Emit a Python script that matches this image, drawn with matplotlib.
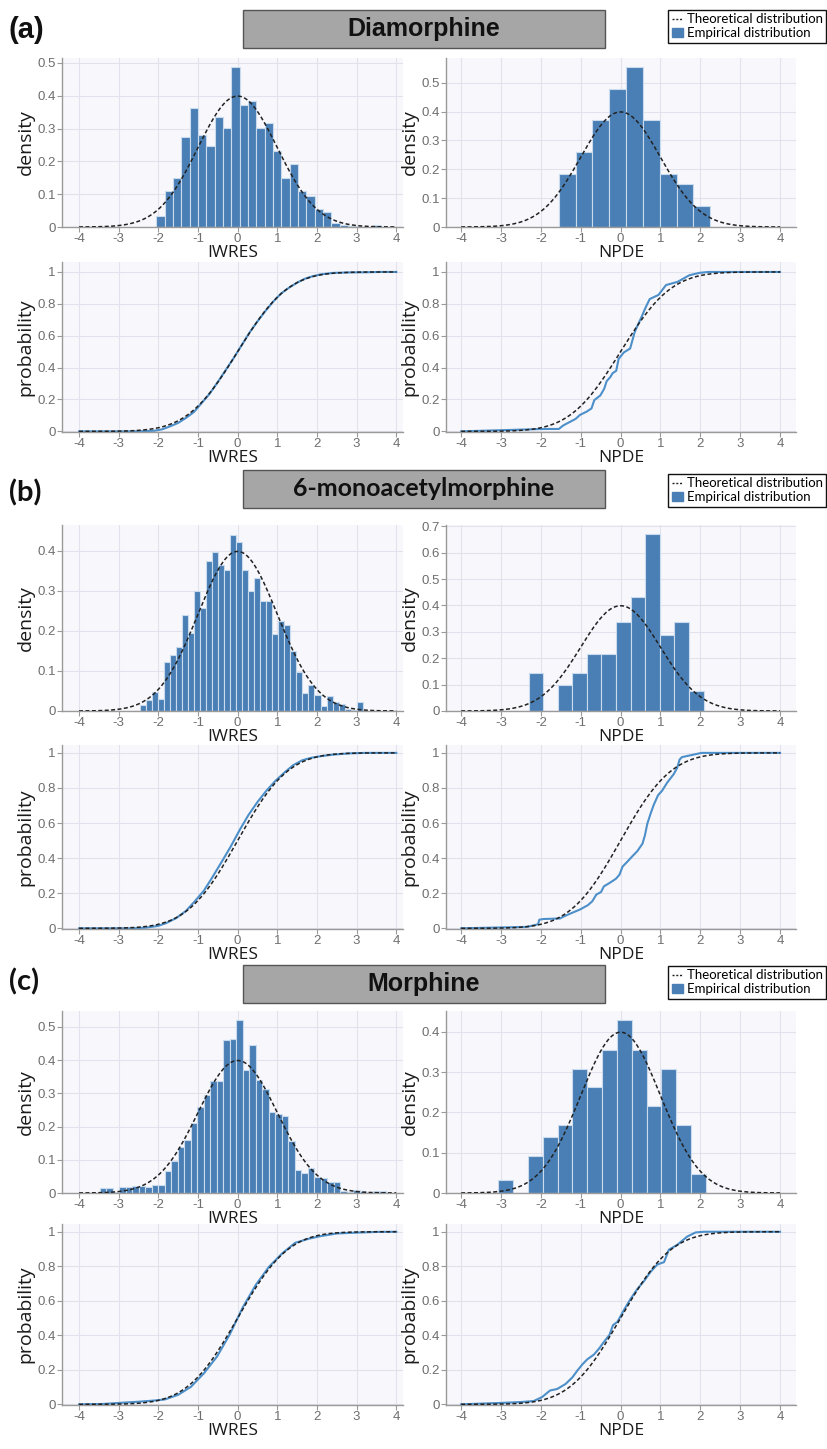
import matplotlib
matplotlib.use("Agg")
import matplotlib.pyplot as plt
from matplotlib.lines import Line2D
from matplotlib.patches import Patch, Rectangle
from matplotlib.ticker import FuncFormatter
from math import erf, sqrt, pi, exp

# ---------------- data ----------------
panel_letters = ["(a)", "(b)", "(c)"]
compounds = ["Diamorphine", "6-monoacetylmorphine", "Morphine"]
legend_labels = ["Theoretical distribution", "Empirical distribution"]
x_ticks = [-4, -3, -2, -1, 0, 1, 2, 3, 4]
x_labels = ["IWRES", "NPDE"]

# theoretical distribution: standard normal N(0, 1)
theo_mean = 0.0
theo_sd = 1.0

# (a) Diamorphine
iwres_a_start = -2.05
iwres_a_width = 0.21
iwres_a_density = [0.033, 0.109, 0.150, 0.275, 0.364, 0.281, 0.246, 0.336, 0.301,
                   0.488, 0.371, 0.385, 0.301, 0.316, 0.232, 0.150, 0.192, 0.109,
                   0.095, 0.055, 0.046, 0.013, 0.006, 0.003, 0.0, 0.0, 0.007]
npde_a_start = -1.55
npde_a_width = 0.422
npde_a_density = [0.185, 0.259, 0.370, 0.480, 0.555, 0.370, 0.185, 0.148, 0.074]

iwres_a_cdf_x = [-4, -2.5, -2.1, -1.9, -1.7, -1.5, -1.3, -1.1, -0.9, -0.7, -0.5, -0.3,
                 -0.1, 0.1, 0.3, 0.5, 0.7, 0.9, 1.1, 1.3, 1.5, 1.7, 1.9, 2.1, 2.4,
                 2.8, 3.2, 3.6, 4]
iwres_a_cdf_p = [0, 0.0, 0.004, 0.013, 0.032, 0.053, 0.085, 0.122, 0.18, 0.238,
                 0.31, 0.385, 0.46, 0.54, 0.62, 0.69, 0.755, 0.815, 0.866, 0.902,
                 0.933, 0.958, 0.974, 0.985, 0.994, 0.997, 0.998, 1.0, 1.0]
npde_a_cdf_x = [-4, -1.95, -1.55, -1.44, -1.13, -1.02, -0.85, -0.73, -0.66, -0.51,
                -0.41, -0.35, -0.26, -0.2, -0.11, -0.05, 0.08, 0.24, 0.35, 0.40,
                0.54, 0.62, 0.73, 0.95, 1.14, 1.43, 1.72, 1.97, 2.2, 4]
npde_a_cdf_p = [0, 0.015, 0.015, 0.037, 0.078, 0.103, 0.124, 0.144, 0.196, 0.225,
                0.268, 0.315, 0.34, 0.365, 0.38, 0.454, 0.495, 0.52, 0.62, 0.65,
                0.726, 0.773, 0.83, 0.856, 0.918, 0.938, 0.979, 0.994, 1.0, 1.0]

# (b) 6-monoacetylmorphine
iwres_b_start = -2.47
iwres_b_width = 0.152
iwres_b_density = [0.015, 0.027, 0.047, 0.031, 0.122, 0.140, 0.161, 0.241, 0.196,
                   0.300, 0.257, 0.374, 0.397, 0.366, 0.353, 0.439, 0.423, 0.353,
                   0.300, 0.332, 0.274, 0.274, 0.193, 0.225, 0.215, 0.150, 0.098,
                   0.044, 0.066, 0.040, 0.012, 0.038, 0.022, 0.018, 0.006, 0.002,
                   0.022]
npde_b_start = -2.31
npde_b_width = 0.366
npde_b_density = [0.145, 0.0, 0.098, 0.145, 0.216, 0.216, 0.336, 0.433, 0.672,
                  0.289, 0.336, 0.074]

iwres_b_cdf_x = [-4, -2.6, -2.3, -2.0, -1.8, -1.55, -1.3, -1.1, -0.85, -0.64, -0.4,
                 -0.19, 0.05, 0.27, 0.5, 0.72, 0.95, 1.18, 1.4, 1.63, 1.85, 2.09,
                 2.4, 2.8, 3.2, 4]
iwres_b_cdf_p = [0, 0.0, 0.004, 0.014, 0.03, 0.058, 0.1, 0.149, 0.215, 0.29,
                 0.38, 0.46, 0.56, 0.645, 0.72, 0.783, 0.84, 0.888, 0.93, 0.958,
                 0.972, 0.981, 0.99, 0.997, 1.0, 1.0]
npde_b_cdf_x = [-4, -2.35, -2.07, -2.04, -1.93, -1.52, -1.42, -1.27, -1.02, -0.82,
                -0.71, -0.61, -0.49, -0.42, -0.28, -0.12, -0.03, 0.05, 0.17, 0.30,
                0.42, 0.55, 0.61, 0.67, 0.75, 0.83, 0.94, 1.04, 1.17, 1.33, 1.42,
                1.48, 1.54, 2.03, 4]
npde_b_cdf_p = [0, 0.008, 0.023, 0.049, 0.053, 0.056, 0.068, 0.083, 0.107, 0.132,
                0.154, 0.192, 0.207, 0.239, 0.258, 0.282, 0.305, 0.352, 0.38, 0.412,
                0.44, 0.483, 0.53, 0.596, 0.652, 0.703, 0.759, 0.784, 0.831, 0.878,
                0.915, 0.962, 0.976, 1.0, 1.0]

# (c) Morphine
iwres_c_start = -3.48
iwres_c_width = 0.164
iwres_c_density = [0.014, 0.014, 0.004, 0.017, 0.017, 0.020, 0.020, 0.017, 0.025,
                   0.025, 0.066, 0.097, 0.138, 0.160, 0.212, 0.259, 0.296, 0.336,
                   0.336, 0.462, 0.465, 0.522, 0.371, 0.446, 0.339, 0.314, 0.245,
                   0.238, 0.232, 0.158, 0.070, 0.060, 0.074, 0.048, 0.045, 0.034,
                   0.034, 0.005, 0.004, 0.010, 0.005, 0.003, 0.006, 0.006]
npde_c_start = -3.07
npde_c_width = 0.372
npde_c_density = [0.032, 0.0, 0.093, 0.140, 0.169, 0.308, 0.262, 0.354, 0.430,
                  0.354, 0.215, 0.308, 0.169, 0.047]

iwres_c_cdf_x = [-4, -3.4, -3.0, -2.5, -2.1, -1.84, -1.5, -1.18, -0.85, -0.52, -0.2,
                 0.13, 0.46, 0.79, 1.12, 1.45, 1.8, 2.1, 2.5, 3.0, 3.5, 4]
iwres_c_cdf_p = [0, 0.002, 0.008, 0.015, 0.022, 0.028, 0.055, 0.101, 0.18, 0.277,
                 0.405, 0.562, 0.693, 0.797, 0.874, 0.936, 0.96, 0.975, 0.99,
                 0.995, 0.999, 1.0]
npde_c_cdf_x = [-4, -3.01, -2.51, -2.18, -1.97, -1.77, -1.59, -1.38, -1.21, -1.09,
                -0.96, -0.84, -0.67, -0.53, -0.44, -0.28, -0.19, -0.08, 0.08, 0.25,
                0.42, 0.59, 0.75, 0.92, 1.09, 1.21, 1.42, 1.67, 1.88, 2.09, 4]
npde_c_cdf_p = [0, 0.008, 0.013, 0.019, 0.042, 0.08, 0.089, 0.118, 0.156, 0.194,
                0.231, 0.26, 0.288, 0.326, 0.355, 0.402, 0.459, 0.478, 0.545, 0.611,
                0.668, 0.715, 0.767, 0.81, 0.824, 0.896, 0.924, 0.972, 0.996, 1.0, 1.0]

# ---------------- style ----------------
W, H = 828, 1449
plt.rcParams["axes.unicode_minus"] = False
TICK_FONT = ["Liberation Sans", "DejaVu Sans"]
LABEL_FONT = ["Open Sans", "DejaVu Sans"]
BAR_COLOR = "#4a7fb5"
BAR_EDGE = "#c9dbec"
ECDF_COLOR = "#4d8fc9"
BG = "#f8f8fc"
GRID = "#e2e2ec"
AXCOL = "#9a9a9a"

theo_x = [-4 + 0.04 * i for i in range(201)]
theo_pdf = [exp(-((v - theo_mean) / theo_sd) ** 2 / 2) / (theo_sd * sqrt(2 * pi)) for v in theo_x]
theo_cdf = [0.5 * (1 + erf((v - theo_mean) / (theo_sd * sqrt(2)))) for v in theo_x]

fig = plt.figure(figsize=(W / 100, H / 100), dpi=100)


def add_ax(x0, x1, y0, y1):
    return fig.add_axes([x0 / W, 1 - y1 / H, (x1 - x0) / W, (y1 - y0) / H])


fmt = FuncFormatter(lambda v, p: ("%g" % round(v, 3)))


def style(ax, xlim, ylim, yticks, ylabel, xlabel):
    ax.set_facecolor(BG)
    ax.set_xlim(*xlim)
    ax.set_ylim(*ylim)
    ax.set_xticks(x_ticks)
    ax.set_yticks(yticks)
    ax.yaxis.set_major_formatter(fmt)
    ax.xaxis.set_major_formatter(fmt)
    ax.grid(True, color=GRID, lw=0.8)
    ax.set_axisbelow(True)
    for s in ["top", "right"]:
        ax.spines[s].set_visible(False)
    for s in ["left", "bottom"]:
        ax.spines[s].set_color(AXCOL)
        ax.spines[s].set_linewidth(1.0)
    ax.tick_params(axis="both", direction="out", length=3.5, width=0.8, color=AXCOL,
                   labelcolor="#6e6e6e", labelsize=9.5, pad=1.0)
    for lab in ax.get_xticklabels() + ax.get_yticklabels():
        lab.set_family(TICK_FONT)
    ax.set_ylabel(ylabel, family=LABEL_FONT, fontsize=14, color="#1a1a1a", labelpad=2)
    ax.set_xlabel(xlabel, family=LABEL_FONT, fontsize=12.5, color="#1a1a1a", labelpad=0)


def hist(ax, start, width, dens):
    lefts = [start + i * width for i in range(len(dens))]
    ax.bar(lefts, dens, width=width, align="edge", color=BAR_COLOR,
           edgecolor=BAR_EDGE, linewidth=0.8, zorder=2)
    ax.plot(theo_x, theo_pdf, color="#222222", lw=1.1, ls=(0, (2.6, 1.6)), zorder=3)


def cdf(ax, xs, ps):
    ax.plot(xs, ps, color=ECDF_COLOR, lw=1.5, zorder=2)
    ax.plot(theo_x, theo_cdf, color="#222222", lw=1.1, ls=(0, (2.6, 1.6)), zorder=3)


LX = (62, 403)
RX = (446, 796)
XL_L = (-4.43, 4.17)
XL_R = (-4.38, 4.4)

layout = [
    dict(dens=(58, 227), cdf=(262, 432), ylim_l=0.515, ylim_r=0.586, yt_l=0.5, yt_r=0.5,
         ycdf=1.0625, head=(10, 48), letter_y=30, leg_top=10),
    dict(dens=(525, 711), cdf=(745, 929), ylim_l=0.465, ylim_r=0.705, yt_l=0.4, yt_r=0.7,
         ycdf=1.045, head=(470, 508), letter_y=493, leg_top=474),
    dict(dens=(1011, 1193), cdf=(1224, 1405), ylim_l=0.548, ylim_r=0.4515, yt_l=0.5, yt_r=0.4,
         ycdf=1.045, head=(965, 1003), letter_y=982, leg_top=966),
]

hist_data = [
    ((iwres_a_start, iwres_a_width, iwres_a_density), (npde_a_start, npde_a_width, npde_a_density)),
    ((iwres_b_start, iwres_b_width, iwres_b_density), (npde_b_start, npde_b_width, npde_b_density)),
    ((iwres_c_start, iwres_c_width, iwres_c_density), (npde_c_start, npde_c_width, npde_c_density)),
]
cdf_data = [
    ((iwres_a_cdf_x, iwres_a_cdf_p), (npde_a_cdf_x, npde_a_cdf_p)),
    ((iwres_b_cdf_x, iwres_b_cdf_p), (npde_b_cdf_x, npde_b_cdf_p)),
    ((iwres_c_cdf_x, iwres_c_cdf_p), (npde_c_cdf_x, npde_c_cdf_p)),
]


def ticks_to(top):
    n = int(round(top * 10))
    return [i / 10 for i in range(n + 1)]


cdf_ticks = [0, 0.2, 0.4, 0.6, 0.8, 1.0]
title_fonts = [["Liberation Sans Narrow", "Liberation Sans"], ["Lato", "DejaVu Sans"],
               ["Liberation Sans Narrow", "Liberation Sans"]]
letter_fonts = [["Liberation Sans", "DejaVu Sans"], ["Lato", "DejaVu Sans"], ["Lato", "DejaVu Sans"]]

for k, L in enumerate(layout):
    # density row
    axl = add_ax(LX[0], LX[1], L["dens"][0], L["dens"][1])
    hist(axl, *hist_data[k][0])
    style(axl, XL_L, (0, L["ylim_l"]), ticks_to(L["yt_l"]), "density", x_labels[0])
    axr = add_ax(RX[0], RX[1], L["dens"][0], L["dens"][1])
    hist(axr, *hist_data[k][1])
    style(axr, XL_R, (0, L["ylim_r"]), ticks_to(L["yt_r"]), "density", x_labels[1])
    # cdf row
    cl = add_ax(LX[0], LX[1], L["cdf"][0], L["cdf"][1])
    cdf(cl, *cdf_data[k][0])
    style(cl, XL_L, (-0.004, L["ycdf"]), cdf_ticks, "probability", x_labels[0])
    cr = add_ax(RX[0], RX[1], L["cdf"][0], L["cdf"][1])
    cdf(cr, *cdf_data[k][1])
    style(cr, XL_R, (-0.004, L["ycdf"]), cdf_ticks, "probability", x_labels[1])

    # header box
    y0, y1 = L["head"]
    fig.patches.append(Rectangle((243 / W, 1 - y1 / H), (605 - 243) / W, (y1 - y0) / H,
                                 transform=fig.transFigure, facecolor="#a6a6a6",
                                 edgecolor="#555555", lw=1.0))
    fig.text((243 + 605) / 2 / W, 1 - (y0 + y1) / 2 / H, compounds[k], ha="center",
             va="center", fontsize=18, fontweight="bold", family=title_fonts[k], color="#111111")
    fig.text(9 / W, 1 - L["letter_y"] / H, panel_letters[k], ha="left", va="center",
             fontsize=21, fontweight="bold", family=letter_fonts[k], color="#111111")

    handles = [Line2D([], [], color="#222222", lw=1.0, ls=(0, (1.5, 1.2))),
               Patch(facecolor=BAR_COLOR, edgecolor=BAR_COLOR)]
    leg = fig.legend(handles, legend_labels, loc="upper right",
                     bbox_to_anchor=(826 / W, 1 - L["leg_top"] / H),
                     prop={"family": ["Lato", "DejaVu Sans"], "size": 9.5},
                     frameon=True, fancybox=False, edgecolor="#111111", framealpha=1,
                     handlelength=0.9, handleheight=0.6, handletextpad=0.25,
                     borderpad=0.25, labelspacing=0.15, borderaxespad=0)
    leg.get_frame().set_linewidth(1.0)

fig.savefig("out.png", dpi=100, facecolor="white")
